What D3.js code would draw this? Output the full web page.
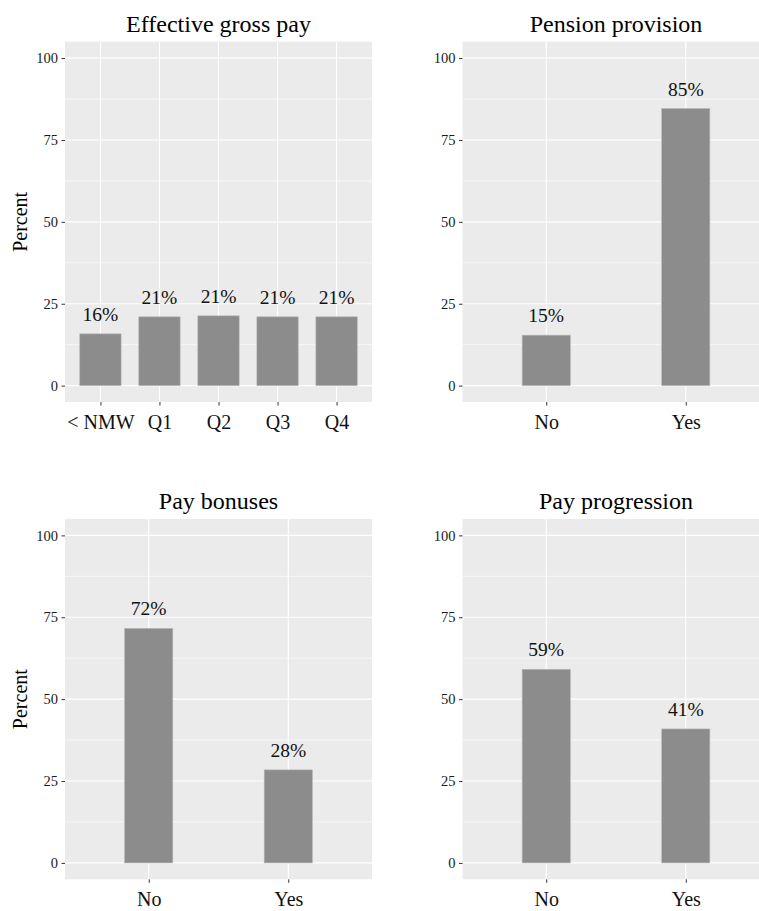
<!DOCTYPE html>
<html>
<head>
<meta charset="utf-8">
<script src="https://cdn.jsdelivr.net/npm/d3@7"></script>
<style>
  html, body { margin: 0; padding: 0; background: #ffffff; }
  svg { display: block; }
  text { font-family: "Liberation Serif", "Times New Roman", serif; }
</style>
</head>
<body>
<svg id="chart" width="759" height="911"></svg>
<script>
// ---- Data ----
const titles = ["Effective gross pay", "Pension provision", "Pay bonuses", "Pay progression"];
const payCategories = ["< NMW", "Q1", "Q2", "Q3", "Q4"];
const payValues = [15.8, 21.0, 21.3, 21.0, 21.0];
const pensionCategories = ["No", "Yes"];
const pensionValues = [15.4, 84.6];
const bonusCategories = ["No", "Yes"];
const bonusValues = [71.6, 28.4];
const progressionCategories = ["No", "Yes"];
const progressionValues = [59.1, 40.9];
const yTicks = [0, 25, 50, 75, 100];
const yMinorTicks = [12.5, 37.5, 62.5, 87.5];
const yLabel = "Percent";

// ---- Layout ----
const svg = d3.select("#chart");
const cols = [[65, 372], [462.5, 769.5]];
const rows = [[402, 41.7], [879.3, 519]];

const panels = [
  { title: titles[0], cats: payCategories, vals: payValues, col: 0, row: 0, barFrac: 0.7, ylab: true },
  { title: titles[1], cats: pensionCategories, vals: pensionValues, col: 1, row: 0, barFrac: 0.345, ylab: false },
  { title: titles[2], cats: bonusCategories, vals: bonusValues, col: 0, row: 1, barFrac: 0.345, ylab: true },
  { title: titles[3], cats: progressionCategories, vals: progressionValues, col: 1, row: 1, barFrac: 0.345, ylab: false }
];

const fmt = v => d3.format(".0f")(v) + "%";

panels.forEach(p => {
  const xr = cols[p.col], yr = rows[p.row];
  const x = d3.scalePoint().domain(p.cats).range(xr).padding(0.6);
  const y = d3.scaleLinear().domain([-5, 105]).range(yr);
  const g = svg.append("g");

  // background
  g.append("rect")
    .attr("x", xr[0]).attr("y", yr[1])
    .attr("width", xr[1] - xr[0]).attr("height", yr[0] - yr[1])
    .attr("fill", "#EBEBEB");

  // minor grid
  g.selectAll(".minor").data(yMinorTicks).enter().append("line")
    .attr("x1", xr[0]).attr("x2", xr[1])
    .attr("y1", d => y(d)).attr("y2", d => y(d))
    .attr("stroke", "#ffffff").attr("stroke-width", 0.6);
  // major grid
  g.selectAll(".major").data(yTicks).enter().append("line")
    .attr("x1", xr[0]).attr("x2", xr[1])
    .attr("y1", d => y(d)).attr("y2", d => y(d))
    .attr("stroke", "#ffffff").attr("stroke-width", 1.1);
  g.selectAll(".vmajor").data(p.cats).enter().append("line")
    .attr("x1", d => x(d)).attr("x2", d => x(d))
    .attr("y1", yr[0]).attr("y2", yr[1])
    .attr("stroke", "#ffffff").attr("stroke-width", 1.1);

  const bw = x.step() * p.barFrac;
  const data = p.cats.map((c, i) => ({ c, v: p.vals[i] }));

  g.selectAll(".bar").data(data).enter().append("rect")
    .attr("x", d => x(d.c) - bw / 2)
    .attr("y", d => y(d.v))
    .attr("width", bw)
    .attr("height", d => y(0) - y(d.v))
    .attr("fill", "#8C8C8C")
    .attr("stroke", "#B5B5B5").attr("stroke-width", 0.6);

  g.selectAll(".val").data(data).enter().append("text")
    .attr("x", d => x(d.c))
    .attr("y", d => y(d.v) - 13)
    .attr("text-anchor", "middle")
    .attr("font-size", 19.5)
    .attr("fill", "#111")
    .text(d => fmt(d.v));

  // y axis
  const ya = d3.axisLeft(y).tickValues(yTicks).tickSize(3.5).tickPadding(3.5);
  const yg = g.append("g").attr("transform", `translate(${xr[0]},0)`).call(ya);
  yg.select(".domain").remove();
  yg.selectAll(".tick line").attr("stroke", "#333").attr("stroke-width", 1);
  yg.selectAll(".tick text").attr("font-size", 14.5).attr("fill", "#1a1a1a")
    .attr("font-family", "Liberation Serif, Times New Roman, serif");

  // x axis
  const xa = d3.axisBottom(x).tickSize(3.5).tickPadding(9);
  const xg = g.append("g").attr("transform", `translate(0,${yr[0]})`).call(xa);
  xg.select(".domain").remove();
  xg.selectAll(".tick line").attr("stroke", "#333").attr("stroke-width", 1);
  xg.selectAll(".tick text").attr("font-size", 20).attr("fill", "#111")
    .attr("font-family", "Liberation Serif, Times New Roman, serif");

  // title
  g.append("text")
    .attr("x", (xr[0] + xr[1]) / 2)
    .attr("y", yr[1] - 10)
    .attr("text-anchor", "middle")
    .attr("font-size", 24)
    .attr("fill", "#000")
    .text(p.title);

  if (p.ylab) {
    const cy = (yr[0] + yr[1]) / 2;
    g.append("text")
      .attr("transform", `translate(27,${cy}) rotate(-90)`)
      .attr("text-anchor", "middle")
      .attr("font-size", 20)
      .attr("fill", "#000")
      .text(yLabel);
  }
});
</script>
</body>
</html>
